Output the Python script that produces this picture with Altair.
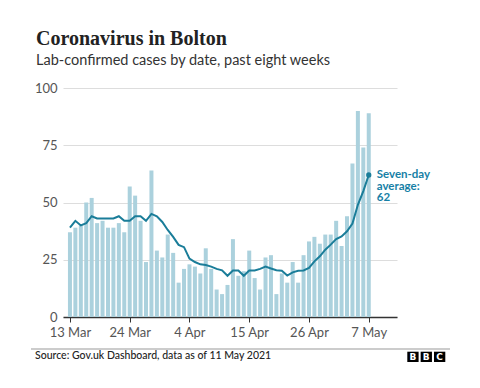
import altair as alt
import pandas as pd

start_date = "2021-03-13"
n_days = 56
cases = [37, 39, 40, 50, 52, 41, 42, 39, 39, 41, 37, 57, 53, 42, 24, 64, 29, 26,
         36, 28, 15, 21, 23, 22, 19, 30, 21, 12, 10, 14, 34, 18, 20, 29, 17, 12,
         26, 27, 10, 19, 15, 24, 15, 27, 33, 35, 32, 36, 36, 42, 31, 44, 67, 90,
         74, 89]
avg7 = [39, 42, 40, 41, 44, 43, 43, 43, 43, 44, 42, 42, 44, 44, 42, 45, 44, 41.5,
        38, 35, 31.5, 30.5, 25.5, 24, 23, 22.7, 22, 21, 20.4, 18, 20.3, 20.3, 18,
        20.3, 20.3, 21, 22, 21.2, 20.4, 20.2, 18.1, 19.5, 20.2, 20.3, 21.4, 24.3,
        26.5, 29.4, 31.6, 34, 35.2, 37.4, 40.8, 49, 55, 62]
tick_dates = [(3, 13), (3, 24), (4, 4), (4, 15), (4, 26), (5, 7)]
y_ticks = [0, 25, 50, 75, 100]

dates = pd.date_range(start_date, periods=n_days, freq="D").strftime("%Y-%m-%d")
df = pd.DataFrame({"date": dates, "cases": cases, "avg": avg7})
last = df.tail(1).copy()
last["label"] = "Seven-day\naverage:\n" + str(int(round(avg7[-1])))

FONT = "Lato"
TEAL = "#1a7d99"
BAR = "#abd1dd"

xscale = alt.Scale(
    type="utc",
    domain=[alt.DateTime(year=2021, month=3, date=12, hours=15, minutes=24, utc=True),
            alt.DateTime(year=2021, month=5, date=11, hours=6, minutes=43, utc=True)],
)
xaxis = alt.Axis(
    values=[alt.DateTime(year=2021, month=m, date=d, utc=True) for m, d in tick_dates],
    format="%-d %b", title=None, grid=False,
    domainColor="#333333", domainWidth=1.5, tickColor="#333333", tickSize=5,
    labelFont=FONT, labelFontSize=13, labelColor="#555555", labelPadding=4,
)
yaxis = alt.Axis(
    values=y_ticks, title=None, domain=False, ticks=False,
    gridColor="#dddddd", labelFont=FONT, labelFontSize=13, labelColor="#555555",
    labelPadding=6,
)

base = alt.Chart(df)
bars = base.mark_bar(color=BAR, width=4).encode(
    x=alt.X("date:T", scale=xscale, axis=xaxis),
    y=alt.Y("cases:Q", scale=alt.Scale(domain=[0, 100]), axis=yaxis),
)
line = base.mark_line(color=TEAL, strokeWidth=2).encode(
    x="date:T", y="avg:Q"
)
lastc = alt.Chart(last)
dot = lastc.mark_circle(color=TEAL, size=28, opacity=1).encode(x="date:T", y="avg:Q")
ann = lastc.mark_text(
    align="left", baseline="middle", dx=8, dy=0, lineBreak="\n", lineHeight=11.5,
    font=FONT, fontSize=11.5, fontWeight="bold", color="#1680a6",
).encode(x="date:T", y="avg:Q", text="label:N")

footer_line = alt.Chart(df.head(1)).mark_rule(color="#999999", strokeWidth=1).encode(
    x=alt.value(-32), x2=alt.value(387), y=alt.value(261)
)
source = alt.Chart(df.head(1)).mark_text(
    align="left", baseline="alphabetic", font=FONT, fontSize=10.5, fontWeight=500,
    color="#222222", text="Source: Gov.uk Dashboard, data as of 11 May 2021",
).encode(x=alt.value(-28), y=alt.value(271))

logo_layers = []
for i, letter in enumerate(["B", "B", "C"]):
    x0 = 344.3 + i * 13.35
    logo_layers.append(
        alt.Chart(df.head(1)).mark_rect(color="#000000").encode(
            x=alt.value(x0), x2=alt.value(x0 + 11.3), y=alt.value(263.7), y2=alt.value(274)
        )
    )
    logo_layers.append(
        alt.Chart(df.head(1)).mark_text(
            align="center", baseline="middle", font="DejaVu Sans", fontSize=9,
            fontWeight="bold", color="#ffffff", text=letter,
        ).encode(x=alt.value(x0 + 5.65), y=alt.value(269.2))
    )

chart = alt.layer(bars, line, dot, ann, footer_line, source, *logo_layers).properties(
    width=334, height=229,
    title=alt.TitleParams(
        text="Coronavirus in Bolton",
        subtitle="Lab-confirmed cases by date, past eight weeks",
        anchor="start", frame="group", dx=-27, offset=15,
        font="Liberation Serif", fontSize=20, fontWeight="bold", color="#222222",
        subtitleFont=FONT, subtitleFontSize=14.5, subtitleColor="#333333",
        subtitlePadding=5,
    ),
    padding={"left": 55, "top": 80, "right": 75, "bottom": 63},
    autosize=alt.AutoSizeParams(type="none"),
).configure_view(stroke=None)

chart.save("out.html", embed_options={"renderer": "svg", "actions": False})
